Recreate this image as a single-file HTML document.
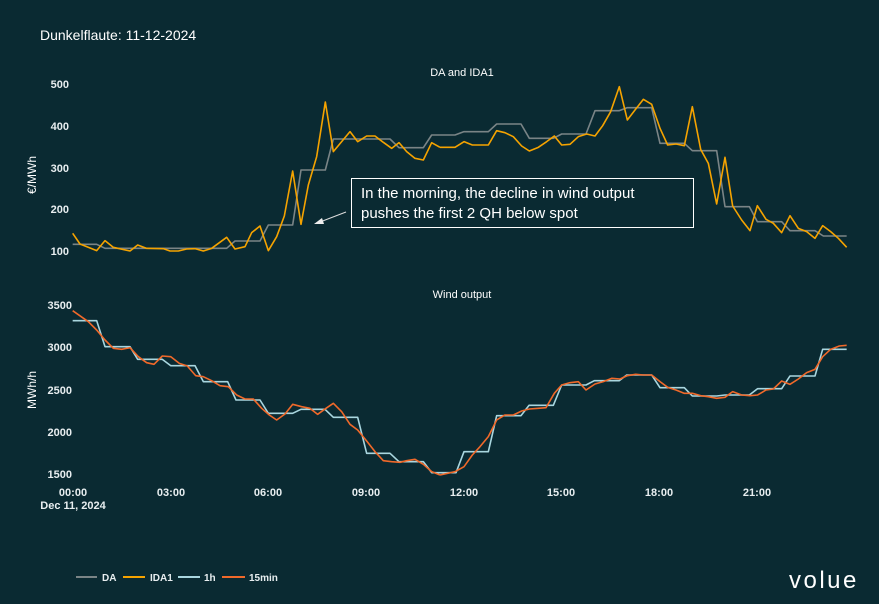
<!DOCTYPE html>
<html><head><meta charset="utf-8"><style>
html,body{margin:0;padding:0;background:#0a2a32;}
svg{display:block;font-family:"Liberation Sans",sans-serif;}
</style></head><body>
<svg width="879" height="604" viewBox="0 0 879 604" xmlns="http://www.w3.org/2000/svg">
<rect width="879" height="604" fill="#0a2a32"/>
<text x="40" y="40" fill="#fff" font-size="14">Dunkelflaute: 11-12-2024</text>
<text x="462" y="76" fill="#fff" font-size="11" text-anchor="middle">DA and IDA1</text>
<text x="462" y="298" fill="#fff" font-size="11" text-anchor="middle">Wind output</text>
<g fill="#e8eef0" font-size="11" text-anchor="end" font-weight="bold">
<text x="69" y="88">500</text><text x="69" y="130">400</text><text x="69" y="172">300</text><text x="69" y="213">200</text><text x="69" y="255">100</text>
<text x="72" y="309">3500</text><text x="72" y="351">3000</text><text x="72" y="394">2500</text><text x="72" y="436">2000</text><text x="72" y="478">1500</text>
</g>
<text transform="translate(36,175) rotate(-90)" fill="#fff" font-size="12" text-anchor="middle">€/MWh</text>
<text transform="translate(36,390) rotate(-90)" fill="#fff" font-size="12" text-anchor="middle">MWh/h</text>
<g fill="#e8eef0" font-size="11" text-anchor="middle" font-weight="bold">
<text x="73" y="496">00:00</text><text x="171" y="496">03:00</text><text x="268" y="496">06:00</text><text x="366" y="496">09:00</text><text x="464" y="496">12:00</text><text x="561" y="496">15:00</text><text x="659" y="496">18:00</text><text x="757" y="496">21:00</text>
<text x="73" y="509">Dec 11, 2024</text>
</g>
<g fill="none" stroke-width="1.6" stroke-linejoin="round">
<g transform="translate(0,60) scale(0.33333)">
<path vector-effect="non-scaling-stroke" stroke="#7a8486" d="M218,553 H290 L315,565 H680 L705,543 H780 L805,495 H878 L903,330 H976 L1000,237 H1170 L1197,263 H1270 L1295,225 H1320"/>
<path vector-effect="non-scaling-stroke" stroke="#f5a300" d="M218,520 L240,552 L290,572 L315,542 L340,562 L390,573 L413,555 L440,565 L490,566 L510,573 L535,573 L560,567 L585,566 L610,573 L635,565 L680,532 L705,567 L735,560 L755,518 L780,498 L805,572 L830,530 L853,468 L878,333 L903,493 L925,375 L950,290 L976,126 L1000,275 L1025,245 L1050,215 L1073,245 L1100,228 L1125,228 L1150,247 L1175,265 L1197,248 L1220,275 L1245,295 L1270,300 L1295,248 L1320,262"/>
<path vector-effect="non-scaling-stroke" stroke="#a9d6df" d="M218,122 H290 L315,200 H390 L413,238 H487 L512,257 H585 L610,305 H683 L708,360 H780 L805,400 H878 L903,388 H975 L1000,412 H1073 L1100,520 H1170 L1197,545 H1270 L1295,578 H1320" transform="translate(0,660)"/>
<path vector-effect="non-scaling-stroke" stroke="#f0692a" transform="translate(0,660)" d="M218,92 L265,125 L290,150 L315,180 L340,205 L365,208 L390,203 L415,230 L440,248 L462,253 L487,228 L512,230 L538,250 L562,258 L587,287 L610,290 L635,302 L660,317 L685,320 L710,345 L735,357 L760,357 L785,385 L808,405 L830,420 L855,402 L878,373 L905,380 L930,385 L953,403 L978,385 L1000,370 L1025,395 L1050,433 L1073,450 L1100,483 L1125,515 L1150,542 L1175,545 L1200,547 L1220,542 L1245,538 L1270,553 L1295,575 L1320,585"/>
</g>
<g transform="translate(440,60) scale(0.33333)">
<path vector-effect="non-scaling-stroke" stroke="#7a8486" d="M0,225 H45 L72,215 H145 L170,192 H243 L268,235 H340 L365,222 H438 L465,152 H538 L562,143 H635 L660,250 H733 L757,272 H830 L855,440 H928 L952,485 H1025 L1050,512 H1125 L1150,528 H1220"/>
<path vector-effect="non-scaling-stroke" stroke="#f5a300" d="M0,262 L45,262 L72,245 L97,255 L145,255 L170,212 L195,218 L220,230 L245,258 L268,273 L295,262 L320,245 L343,228 L365,255 L390,253 L415,230 L440,222 L465,228 L488,197 L512,155 L538,80 L562,180 L585,150 L610,118 L635,133 L660,205 L683,255 L708,252 L733,257 L757,140 L782,268 L805,310 L830,432 L855,292 L878,438 L905,480 L930,512 L952,437 L978,478 L1000,490 L1025,518 L1050,467 L1075,505 L1100,515 L1125,535 L1148,497 L1172,515 L1195,535 L1220,562"/>
<path vector-effect="non-scaling-stroke" stroke="#a9d6df" transform="translate(0,660)" d="M0,578 H48 L72,515 H145 L170,407 H243 L267,376 H340 L365,315 H438 L463,302 H538 L560,285 H635 L660,323 H733 L757,348 H830 L855,345 H928 L953,326 H1025 L1050,288 H1125 L1148,208 H1220"/>
<path vector-effect="non-scaling-stroke" stroke="#f0692a" transform="translate(0,660)" d="M0,585 L45,575 L72,560 L97,525 L120,500 L145,470 L170,420 L195,405 L220,405 L245,393 L268,387 L295,385 L318,383 L343,340 L365,315 L390,308 L415,305 L438,330 L465,312 L490,305 L515,295 L540,297 L562,287 L587,283 L610,285 L635,285 L660,305 L683,322 L708,330 L733,340 L757,340 L782,347 L805,350 L830,355 L855,352 L878,335 L905,345 L930,347 L953,345 L978,330 L1000,327 L1025,303 L1050,313 L1075,297 L1100,278 L1125,268 L1148,230 L1172,208 L1198,198 L1220,196"/>
</g>
</g>
<rect x="351.5" y="178.5" width="342" height="49" fill="#0a2a32" stroke="#fff" stroke-width="1"/>
<text x="361" y="198" fill="#fff" font-size="15">In the morning, the decline in wind output</text>
<text x="361" y="218" fill="#fff" font-size="15">pushes the first 2 QH below spot</text>
<line x1="346" y1="212" x2="320" y2="222" stroke="#ddd" stroke-width="1"/>
<polygon points="314,224 322,218 324,224" fill="#eee"/>
<g font-size="10" fill="#e8eef0" stroke-width="2" font-weight="bold">
<line x1="76" y1="577" x2="97" y2="577" stroke="#7a8486"/><text x="102" y="581">DA</text>
<line x1="123" y1="577" x2="145" y2="577" stroke="#f5a300"/><text x="150" y="581">IDA1</text>
<line x1="178" y1="577" x2="200" y2="577" stroke="#a9d6df"/><text x="204" y="581">1h</text>
<line x1="222" y1="577" x2="245" y2="577" stroke="#f0692a"/><text x="249" y="581">15min</text>
</g>
<text x="789" y="588" fill="#fff" font-size="24" letter-spacing="2.5">volue</text>
</svg>
</body></html>
